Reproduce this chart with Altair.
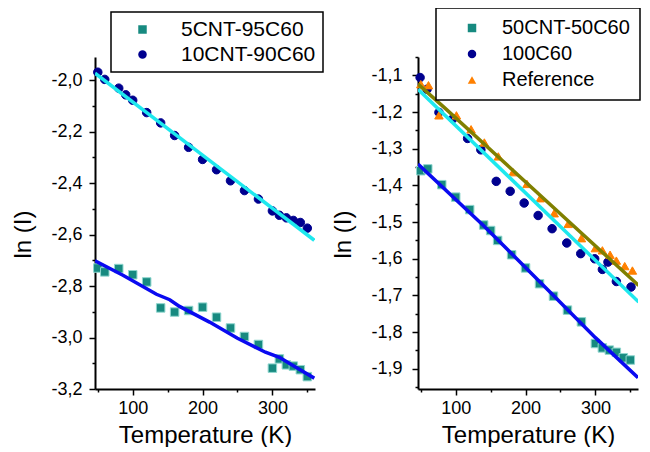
import altair as alt
import pandas as pd

FONT = "Liberation Sans"

# ---------------- Left panel data ----------------
t_5cnt = [50, 60, 80, 100, 120, 140, 160, 180, 200, 220, 240, 260, 280, 300, 310, 320, 330, 340, 350]
v_5cnt = [-2.730, -2.745, -2.732, -2.756, -2.784, -2.885, -2.901, -2.895, -2.882, -2.921,
          -2.963, -2.996, -3.027, -3.119, -3.083, -3.106, -3.111, -3.125, -3.152]

t_10cnt = [50, 60, 80, 90, 100, 120, 140, 160, 180, 200, 220, 240, 260, 280, 300, 310, 320, 330, 340, 350]
v_10cnt = [-1.969, -1.997, -2.031, -2.057, -2.078, -2.126, -2.166, -2.215, -2.261, -2.308,
           -2.348, -2.391, -2.429, -2.462, -2.508, -2.525, -2.535, -2.545, -2.553, -2.575]

fitL_cyan_t = [46, 360]
fitL_cyan_v = [-1.973, -2.622]
fitL_blue_t = [46, 86, 134, 153, 167, 210, 250, 290, 310, 330, 360]
fitL_blue_v = [-2.702, -2.758, -2.832, -2.853, -2.879, -2.940, -3.003, -3.057, -3.077, -3.110, -3.158]

# ---------------- Right panel data ----------------
t_50cnt = [50, 60, 80, 100, 120, 140, 150, 160, 180, 200, 220, 240, 260, 280, 300, 310, 320, 330, 340, 350]
v_50cnt = [-1.360, -1.355, -1.398, -1.432, -1.466, -1.508, -1.523, -1.550, -1.589, -1.625,
           -1.668, -1.702, -1.740, -1.772, -1.831, -1.843, -1.849, -1.855, -1.870, -1.876]

t_100c60 = [49, 59, 76, 96, 117, 136, 158, 178, 198, 218, 238, 259, 279, 299, 310, 318, 330, 351]
v_100c60 = [-1.106, -1.138, -1.201, -1.218, -1.272, -1.303, -1.389, -1.416, -1.448, -1.482,
            -1.518, -1.557, -1.586, -1.600, -1.629, -1.609, -1.662, -1.677]

t_ref = [50, 61, 76, 101, 122, 141, 161, 182, 202, 221, 241, 261, 280, 300, 310, 321, 330, 342, 353]
v_ref = [-1.124, -1.127, -1.209, -1.209, -1.247, -1.283, -1.321, -1.364, -1.396, -1.435,
         -1.476, -1.505, -1.544, -1.571, -1.577, -1.589, -1.605, -1.620, -1.632]

fitR_blue_t = [46, 140, 240, 300, 361]
fitR_blue_v = [-1.342, -1.510, -1.700, -1.815, -1.924]
fitR_cyan_t = [46, 362]
fitR_cyan_v = [-1.138, -1.718]
fitR_olive_t = [46, 85, 362]
fitR_olive_v = [-1.124, -1.190, -1.673]

x_ticks = [50, 100, 150, 200, 250, 300, 350]
yL_ticks = [-3.2, -3.1, -3.0, -2.9, -2.8, -2.7, -2.6, -2.5, -2.4, -2.3, -2.2, -2.1, -2.0]
yR_ticks = [-1.95, -1.9, -1.85, -1.8, -1.75, -1.7, -1.65, -1.6, -1.55, -1.5, -1.45,
            -1.4, -1.35, -1.3, -1.25, -1.2, -1.15, -1.1, -1.05]

TEAL = "#178a80"
TEAL_EDGE = "#8fd6ce"
NAVY = "#00008f"
ORANGE = "#ff8000"


def series_df(pairs):
    rows = []
    for name, ts, vs in pairs:
        for t, v in zip(ts, vs):
            rows.append({"series": name, "T": t, "v": v})
    return pd.DataFrame(rows)


def make_panel(pairs, colors, shapes, strokes, sizes, lines, ydomain, yvalues, major_test,
               leg_x, leg_y, leg_pad, leg_rowpad, leg_symoff, leg_laboff, leg_font, ylab_pad):
    names = [p[0] for p in pairs]
    xaxis = alt.Axis(
        values=x_ticks,
        labelExpr="datum.value % 100 == 0 ? format(datum.value, 'd') : ''",
        tickSize={"condition": {"test": "datum.value % 100 == 0", "value": 6}, "value": 3},
        title="Temperature (K)",
        labelPadding=4, titlePadding=6,
        labelFlush=False, labelOverlap=False,
    )
    yaxis = alt.Axis(
        values=yvalues,
        labelExpr=major_test + " ? replace(replace(format(datum.value, '.1f'), '.', ','), '\u2212', '-') : ''",
        tickSize={"condition": {"test": major_test, "value": 6}, "value": 3},
        title="ln (I)",
        labelPadding=ylab_pad, titlePadding=15,
        labelFlush=False, labelOverlap=False,
        titleY=177,
    )
    x = alt.X("T:Q", scale=alt.Scale(domain=[46, 361], nice=False, zero=False), axis=xaxis)
    y = alt.Y("v:Q", scale=alt.Scale(domain=ydomain, nice=False, zero=False), axis=yaxis)
    legend = alt.Legend(
        title=None, orient="none", legendX=leg_x, legendY=leg_y,
        strokeColor="black", padding=leg_pad, fillColor="white",
        labelFont=FONT, labelFontSize=leg_font, labelColor="black",
        symbolOffset=leg_symoff, labelOffset=leg_laboff, rowPadding=leg_rowpad,
        symbolStrokeWidth=0,
    )
    pts = alt.Chart(series_df(pairs)).mark_point(filled=True, opacity=1, strokeWidth=1).encode(
        x=x, y=y,
        color=alt.Color("series:N", scale=alt.Scale(domain=names, range=colors), legend=legend, sort=names),
        shape=alt.Shape("series:N", scale=alt.Scale(domain=names, range=shapes), legend=legend, sort=names),
        size=alt.Size("series:N", scale=alt.Scale(domain=names, range=sizes), legend=legend, sort=names),
        stroke=alt.Stroke("series:N", scale=alt.Scale(domain=names, range=strokes), legend=None),
    )
    layers = [pts]
    for ts, vs, col, w in lines:
        layers.append(
            alt.Chart(pd.DataFrame({"T": ts, "v": vs}))
            .mark_line(color=col, strokeWidth=w, clip=True)
            .encode(x=x, y=y)
        )
    return alt.layer(*layers).properties(width=220, height=332)


left = make_panel(
    [("5CNT-95C60", t_5cnt, v_5cnt), ("10CNT-90C60", t_10cnt, v_10cnt)],
    [TEAL, NAVY], ["square", "circle"], [TEAL_EDGE, NAVY], [72, 72],
    [(fitL_blue_t, fitL_blue_v, "#0a0af0", 3.5), (fitL_cyan_t, fitL_cyan_v, "#1ee8ee", 3.5)],
    [-3.2, -1.91], yL_ticks, "abs(round(datum.value*10)) % 2 == 0",
    16, -45, 7, 3, 14, 28, 21, 7,
)

right = make_panel(
    [("50CNT-50C60", t_50cnt, v_50cnt), ("100C60", t_100c60, v_100c60), ("Reference", t_ref, v_ref)],
    [TEAL, NAVY, ORANGE], ["square", "circle", "triangle-up"], [TEAL_EDGE, NAVY, ORANGE], [72, 72, 190],
    [(fitR_blue_t, fitR_blue_v, "#0a0af0", 3.5), (fitR_cyan_t, fitR_cyan_v, "#1ee8ee", 3.5),
     (fitR_olive_t, fitR_olive_v, "#808000", 3.5)],
    [-1.955, -1.05], yR_ticks, "abs(round(datum.value*100)) % 10 == 0",
    18, -49, 10, 6, 16, 20, 20, 10,
)

chart = (
    alt.hconcat(left, right, spacing=103, bounds="flush")
    .resolve_scale(color="independent", shape="independent", stroke="independent",
                   size="independent", x="independent", y="independent")
    .properties(padding={"left": 3, "top": -1, "right": 0, "bottom": 0})
    .configure_view(stroke=None)
    .configure_axis(
        grid=False, domainColor="black", domainWidth=2, tickColor="black", tickWidth=1.5,
        labelFont=FONT, labelFontSize=18, labelColor="black",
        titleFont=FONT, titleFontSize=24, titleFontWeight="normal", titleColor="black",
    )
    .configure_legend(strokeWidth=1.5)
)

chart.save("out.html", embed_options={"renderer": "svg", "actions": False})
